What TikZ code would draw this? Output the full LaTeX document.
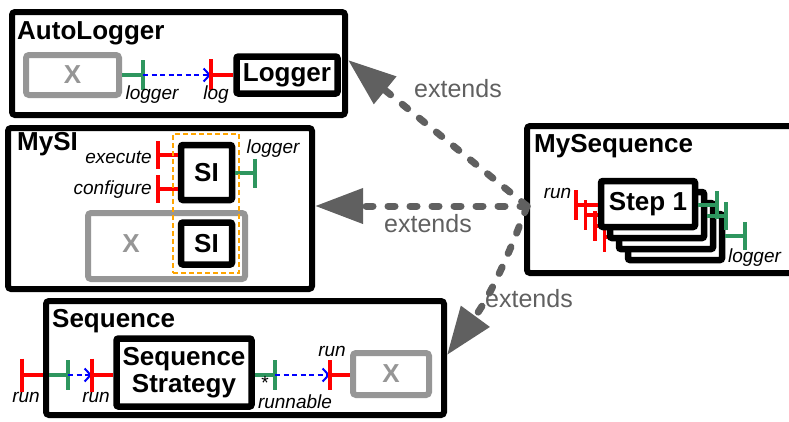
\documentclass[tikz,border=0pt]{standalone}
\usepackage{fontspec}
\setmainfont{Liberation Sans}
\usetikzlibrary{arrows.meta}
\definecolor{pred}{RGB}{255,0,0}
\definecolor{pgreen}{RGB}{46,150,95}
\definecolor{pblue}{RGB}{0,0,255}
\definecolor{xgray}{RGB}{150,150,150}
\definecolor{extgray}{RGB}{96,96,96}
\definecolor{porange}{RGB}{255,165,0}
\newcommand\setfs[1]{\fontsize{#1}{#1}\selectfont}
\begin{document}
\begin{tikzpicture}[x=1pt,y=-1pt,
  container/.style={draw=black, line width=6pt, rounded corners=3pt, fill=white, inner sep=0pt},
  box/.style={draw=black, line width=6.5pt, rounded corners=2pt, fill=white, inner sep=0pt, font=\bfseries\setfs{26}},
  xbox/.style={draw=xgray, line width=6pt, rounded corners=3pt, fill=white, inner sep=0pt, text=xgray, font=\bfseries\setfs{26}},
  xtext/.style={inner sep=0pt, text=xgray, font=\bfseries\setfs{26}},
  title/.style={inner sep=0pt, anchor=base west, font=\bfseries\setfs{26}},
  plabel/.style={inner sep=0pt, anchor=base, font=\itshape\setfs{19}},
  redp/.style={draw=pred, line width=3.5pt},
  greenp/.style={draw=pgreen, line width=3.5pt},
  bluearrow/.style={draw=pblue, line width=2pt, dash pattern=on 5pt off 3.5pt, -{Straight Barb[length=6pt,width=13pt,line width=2pt]}},
  extends/.style={draw=extgray, line width=7pt, dash pattern=on 7pt off 15pt, line cap=round, -{Triangle[length=48pt,width=34pt]}},
  extlabel/.style={inner sep=0pt, anchor=base, text=extgray, font=\setfs{25}},
  orangebox/.style={draw=porange, line width=2.5pt, dash pattern=on 5pt off 3pt, inner sep=0pt}
]
\useasboundingbox (0,0) rectangle (789,421);

% ---------------- AutoLogger ----------------
\node[container, minimum width=333, minimum height=103] (autologger) at (178.5,63.5) {};
\node[title] (autologgerT) at (17,39) {AutoLogger};
\node[xbox, minimum width=93, minimum height=40] (alx) at (72.5,75) {X};
\node[box, minimum width=101, minimum height=37] (logger) at (287,75) {Logger};
\coordinate (alg) at (143,75);
\coordinate (allog) at (211,75);
\draw[greenp] (alx.east) -- (alg);
\draw[greenp] ([yshift=15pt]alg) -- ([yshift=-15pt]alg);
\draw[bluearrow] (alg) -- (allog);
\draw[redp] (allog) -- (logger.west);
\draw[redp] ([yshift=16pt]allog) -- ([yshift=-15pt]allog);
\node[plabel] (alglab) at (152,99) {logger};
\node[plabel] (alloglab) at (216,99) {log};

% ---------------- MySI ----------------
\node[container, minimum width=304, minimum height=161] (mysi) at (160,208.5) {};
\node[title] (mysiT) at (17,150) {MySI};
\node[xbox, minimum width=157, minimum height=66] (six) at (166.5,246) {};
\node[xtext] (sixT) at (131,244) {X};
\node[box, minimum width=51, minimum height=55] (si1) at (206.5,172.5) {SI};
\node[box, minimum width=51, minimum height=42] (si2) at (206.5,243.5) {SI};
\coordinate (exe) at (158,155);
\coordinate (cfg) at (158,189);
\coordinate (silg) at (255,173);
\draw[redp] (exe) -- (si1.west |- exe);
\draw[redp] ([yshift=14pt]exe) -- ([yshift=-14pt]exe);
\draw[redp] (cfg) -- (si1.west |- cfg);
\draw[redp] ([yshift=14pt]cfg) -- ([yshift=-14pt]cfg);
\draw[greenp] (si1.east |- silg) -- (silg);
\draw[greenp] ([yshift=14.5pt]silg) -- ([yshift=-14.5pt]silg);
\node[plabel, anchor=base east] (exelab) at (152,163) {execute};
\node[plabel, anchor=base east] (cfglab) at (152,194) {configure};
\node[plabel] (silglab) at (273,153) {logger};
\node[orangebox, minimum width=66, minimum height=139] (orng) at (206,203.5) {};

% ---------------- Sequence ----------------
\node[container, minimum width=398, minimum height=114] (seq) at (245,358) {};
\node[title] (seqT) at (52,327) {Sequence};
\node[box, minimum width=135, minimum height=68, align=center, font=\bfseries\fontsize{26}{27}\selectfont] (ss) at (184,372.5) {Sequence\\Strategy};
\node[xbox, minimum width=76, minimum height=42] (sx) at (391,374) {X};
\coordinate (runout) at (22,375);
\coordinate (rung) at (68,375);
\coordinate (runin) at (92,375);
\coordinate (rnb) at (275,375);
\coordinate (xrun) at (330,375);
\draw[redp] (runout) -- (seq.west |- runout);
\draw[redp] ([yshift=16.5pt]runout) -- ([yshift=-16.5pt]runout);
\draw[greenp] ([xshift=6pt]seq.west |- runout) -- (rung);
\draw[greenp] ([yshift=15pt]rung) -- ([yshift=-15pt]rung);
\draw[bluearrow] (rung) -- (runin);
\draw[redp] (runin) -- (ss.west |- runin);
\draw[redp] ([yshift=16.5pt]runin) -- ([yshift=-16.5pt]runin);
\draw[greenp] (ss.east |- rnb) -- (rnb);
\draw[greenp] ([yshift=15pt]rnb) -- ([yshift=-15pt]rnb);
\draw[bluearrow] (rnb) -- (xrun);
\draw[redp] (xrun) -- (sx.west |- xrun);
\draw[redp] ([yshift=15pt]xrun) -- ([yshift=-15pt]xrun);
\node[plabel] (runoutlab) at (26,402) {run};
\node[plabel] (runinlab) at (96,402) {run};
\node[plabel, font=\setfs{19}] (star) at (265,389) {*};
\node[plabel] (rnblab) at (295,408) {runnable};
\node[plabel] (xrunlab) at (332,356) {run};

% ---------------- MySequence ----------------
\node[container, minimum width=300, minimum height=147] (myseq) at (677,199.5) {};
\node[title] (myseqT) at (534,152) {MySequence};
% step stack (back to front)
\node[box, minimum width=94, minimum height=46] (step3) at (675,237) {};
\coordinate (sr3) at (604.5,237);
\draw[redp] (sr3) -- (step3.west |- sr3);
\draw[redp] ([yshift=15pt]sr3) -- ([yshift=-15pt]sr3);
\coordinate (sg3) at (745,236);
\draw[greenp] (step3.east |- sg3) -- (sg3);
\draw[greenp] ([yshift=14pt]sg3) -- ([yshift=-14pt]sg3);
\node[box, minimum width=94, minimum height=46] (step2) at (666,226) {};
\coordinate (sr2) at (595,226);
\draw[redp] (sr2) -- (step2.west |- sr2);
\draw[redp] ([yshift=15pt]sr2) -- ([yshift=-15pt]sr2);
\node[box, minimum width=94, minimum height=46] (step1b) at (657,215) {};
\coordinate (sr1) at (585.5,215);
\draw[redp] (sr1) -- (step1b.west |- sr1);
\draw[redp] ([yshift=15pt]sr1) -- ([yshift=-15pt]sr1);
\coordinate (sg1) at (726,216);
\draw[greenp] (step1b.east |- sg1) -- (sg1);
\draw[greenp] ([yshift=14pt]sg1) -- ([yshift=-14pt]sg1);
\node[box, minimum width=94, minimum height=46] (step0) at (648,204) {Step 1};
\coordinate (sr0) at (576,205);
\draw[redp] (sr0) -- (step0.west |- sr0);
\draw[redp] ([yshift=15pt]sr0) -- ([yshift=-15pt]sr0);
\coordinate (sg0) at (717,205);
\draw[greenp] (step0.east |- sg0) -- (sg0);
\draw[greenp] ([yshift=14pt]sg0) -- ([yshift=-14pt]sg0);
\node[plabel] (steprunlab) at (557.5,198) {run};
\node[plabel] (steploglab) at (754.5,262) {logger};

% ---------------- extends arrows ----------------
\coordinate (ms) at (527,206);
\draw[extends] (ms) -- (autologger.east |- 0,60);
\draw[extends] (ms) -- (mysi.east |- ms);
\draw[extends] (ms) to[bend left=8] (seq.east |- 0,355);
\node[extlabel] (ext1) at (458,97) {extends};
\node[extlabel] (ext2) at (428,232) {extends};
\node[extlabel] (ext3) at (529,307) {extends};
\end{tikzpicture}
\end{document}
